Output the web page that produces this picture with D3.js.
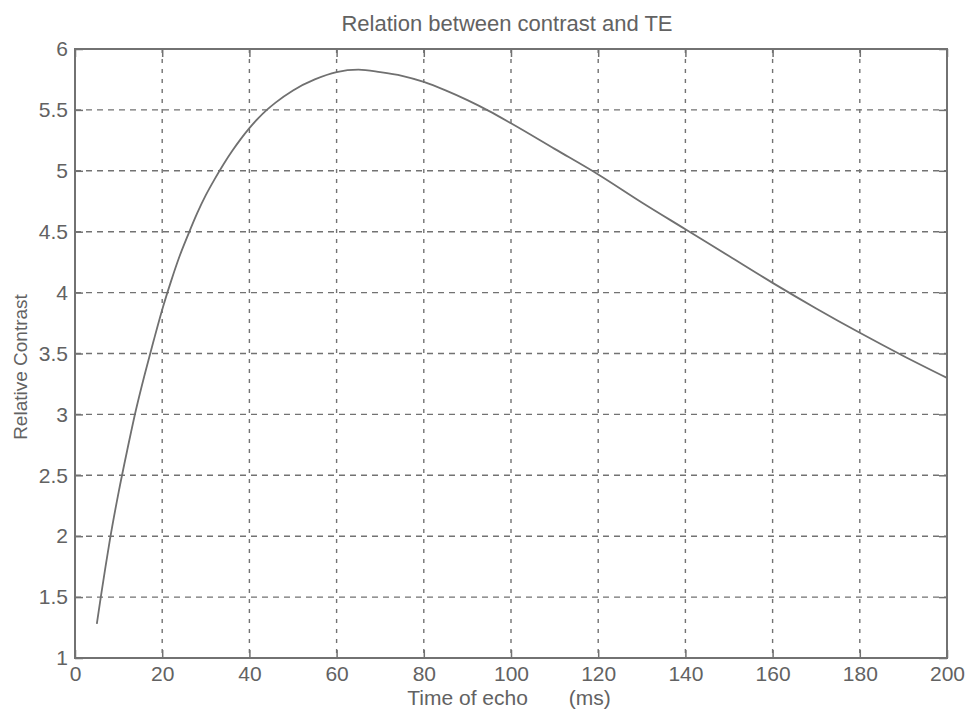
<!DOCTYPE html>
<html>
<head>
<meta charset="utf-8">
<script src="https://cdn.jsdelivr.net/npm/d3@7"></script>
<style>
  body { margin: 0; background: #fff; }
  text { font-family: "Liberation Sans", Arial, sans-serif; fill: #626262; }
</style>
</head>
<body>
<div id="chart"></div>
<script>
// echo time (ms) and relative contrast
const te = [5, 6, 7, 8, 10, 12, 14, 16, 18, 20, 22, 24, 26, 28, 30, 32, 34, 36, 38, 40, 42, 44, 46,
    50, 55, 60, 65, 70, 75, 80, 85, 90, 95, 100, 110, 120, 130, 140, 150, 160, 170, 180, 190, 200];
const contrast = [1.28, 1.52, 1.75, 1.97, 2.36, 2.71, 3.04, 3.33, 3.60, 3.86, 4.09, 4.30, 4.48, 4.65, 4.80, 4.93, 5.05, 5.16, 5.26, 5.35, 5.43, 5.50, 5.56,
    5.66, 5.75, 5.81, 5.83, 5.81, 5.78, 5.73, 5.66, 5.58, 5.49, 5.39, 5.18, 4.97, 4.74, 4.52, 4.30, 4.08, 3.87, 3.67, 3.48, 3.30];

const xTicks = [0, 20, 40, 60, 80, 100, 120, 140, 160, 180, 200];
const yTicks = [1, 1.5, 2, 2.5, 3, 3.5, 4, 4.5, 5, 5.5, 6];

const width = 967, height = 712;
const plotL = 75, plotR = 947, plotT = 49, plotB = 658;
const ink = "#727272";

const svg = d3.select("#chart").append("svg")
    .attr("width", width)
    .attr("height", height);

const x = d3.scaleLinear().domain([0, 200]).range([plotL, plotR]);
const y = d3.scaleLinear().domain([1, 6]).range([plotB, plotT]);

// dashed grid
svg.append("g").selectAll("line")
    .data(xTicks.slice(1, -1))
    .join("line")
    .attr("x1", d => x(d)).attr("x2", d => x(d))
    .attr("y1", plotT).attr("y2", plotB)
    .attr("stroke", ink).attr("stroke-width", 1.4)
    .attr("stroke-dasharray", "4,6");

svg.append("g").selectAll("line")
    .data(yTicks.slice(1, -1))
    .join("line")
    .attr("x1", plotL).attr("x2", plotR)
    .attr("y1", d => y(d)).attr("y2", d => y(d))
    .attr("stroke", ink).attr("stroke-width", 1.4)
    .attr("stroke-dasharray", "6,5");

// axes with inward ticks
const styleAxis = g => {
    g.select(".domain").remove();
    g.selectAll(".tick line").attr("stroke", ink).attr("stroke-width", 1.5);
    g.selectAll(".tick text").style("font-size", "21px").attr("fill", "#626262");
};

svg.append("g")
    .attr("transform", `translate(0,${plotB})`)
    .call(d3.axisBottom(x).tickValues(xTicks).tickSize(-8).tickPadding(8).tickFormat(d => d))
    .call(styleAxis);

svg.append("g")
    .attr("transform", `translate(0,${plotT})`)
    .call(d3.axisTop(x).tickValues(xTicks).tickSize(-8).tickFormat(""))
    .call(styleAxis);

svg.append("g")
    .attr("transform", `translate(${plotL},0)`)
    .call(d3.axisLeft(y).tickValues(yTicks).tickSize(-8).tickPadding(7).tickFormat(d => d))
    .call(styleAxis);

svg.append("g")
    .attr("transform", `translate(${plotR},0)`)
    .call(d3.axisRight(y).tickValues(yTicks).tickSize(-8).tickFormat(""))
    .call(styleAxis);

// frame
svg.append("rect")
    .attr("x", plotL).attr("y", plotT)
    .attr("width", plotR - plotL).attr("height", plotB - plotT)
    .attr("fill", "none")
    .attr("stroke", ink).attr("stroke-width", 2);

// curve
const pts = te.map((t, i) => [t, contrast[i]]);
svg.append("path")
    .datum(pts)
    .attr("fill", "none")
    .attr("stroke", "#707070")
    .attr("stroke-width", 1.8)
    .attr("d", d3.line().x(d => x(d[0])).y(d => y(d[1])).curve(d3.curveMonotoneX));

// labels
svg.append("text")
    .attr("x", 507).attr("y", 31)
    .attr("text-anchor", "middle")
    .style("font-size", "22px")
    .text("Relation between contrast and TE");

svg.append("text")
    .attr("x", 509).attr("y", 705)
    .attr("text-anchor", "middle")
    .style("font-size", "21px")
    .style("white-space", "pre")
    .text("Time of echo       (ms)");

svg.append("text")
    .attr("transform", "translate(27,367) rotate(-90)")
    .attr("text-anchor", "middle")
    .style("font-size", "19px")
    .text("Relative Contrast");
</script>
</body>
</html>
